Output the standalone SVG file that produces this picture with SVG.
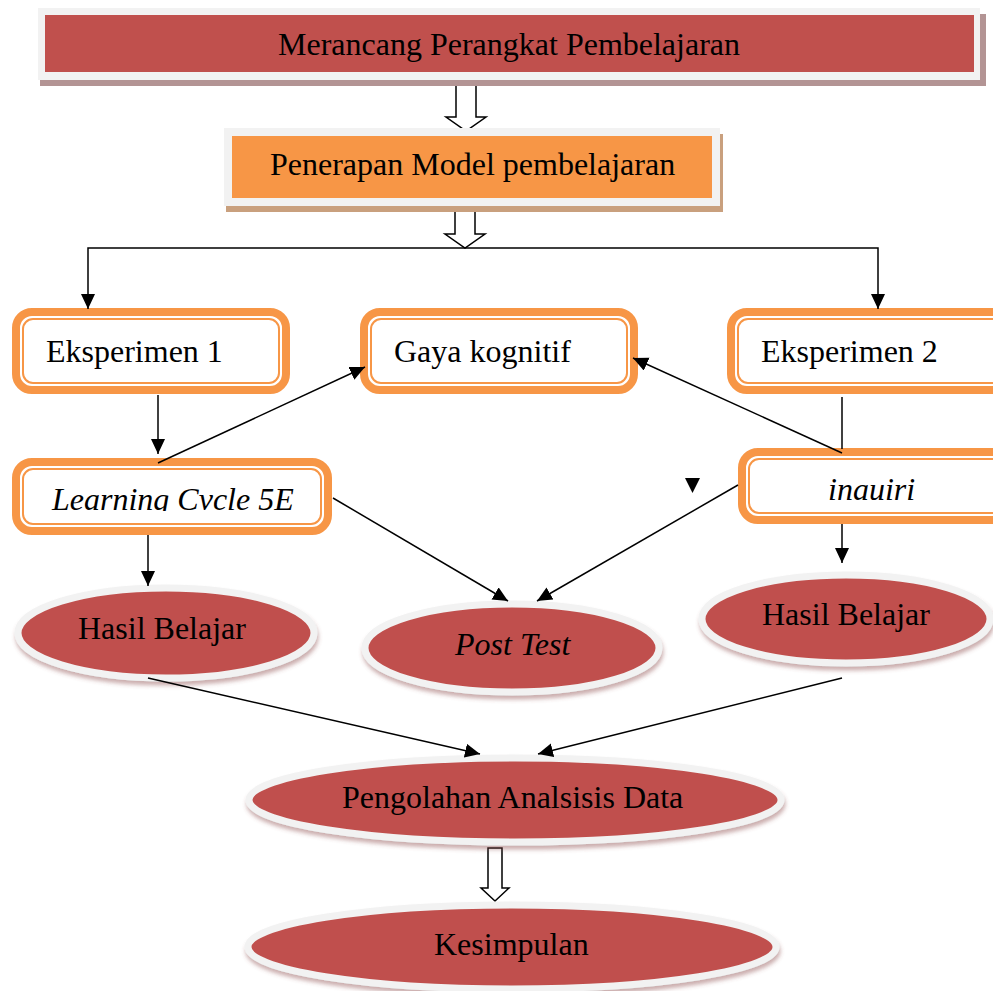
<svg xmlns="http://www.w3.org/2000/svg" width="993" height="991" viewBox="0 0 993 991">
<defs>
<style>
.t{font-family:"Liberation Serif","Times New Roman",serif;font-size:32px;fill:#000}
.i{font-style:italic}
.ob{fill:#fff;stroke:#f79646;stroke-width:8}
.ib{fill:none;stroke:#f79646;stroke-width:2}
.el{fill:#c0504d;stroke:#f2f2f2;stroke-width:7;filter:url(#sh)}
.ln{fill:none;stroke:#000;stroke-width:1.5}
.ba{fill:#fff;stroke:#000;stroke-width:1.5}
</style>
<marker id="ah" markerUnits="userSpaceOnUse" markerWidth="16" markerHeight="16" refX="15" refY="7" orient="auto">
<path d="M0,0 L15,7 L0,14 Z" fill="#000"/>
</marker>
<filter id="sh" x="-10%" y="-20%" width="120%" height="150%">
<feDropShadow dx="1" dy="4" stdDeviation="2" flood-color="#8b4a4a" flood-opacity="0.45"/>
</filter>
<clipPath id="clipLC"><rect x="20" y="440" width="310" height="71"/></clipPath>
<clipPath id="clipIQ"><rect x="745" y="440" width="248" height="61"/></clipPath>
</defs>
<rect width="993" height="991" fill="#fff"/>

<g id="block-arrows">
<path class="ba" d="M456,80 L476,80 L476,117 L486,117 L466,131 L446,117 L456,117 Z"/>
<path class="ba" d="M455,202 L475,202 L475,234 L485,234 L465,248 L445,234 L455,234 Z"/>
<path class="ba" d="M488,848 L502,848 L502,888 L509,888 L495,901 L481,888 L488,888 Z"/>
</g>

<g id="merancang">
<rect x="40" y="14" width="946" height="72" fill="#b39494"/>
<rect x="38" y="8" width="942" height="72" fill="#f2f2f2"/>
<rect x="45" y="15" width="929" height="57" fill="#c0504d"/>
<text class="t" x="278" y="55">Merancang Perangkat Pembelajaran</text>
</g>

<g id="penerapan">
<rect x="226" y="134" width="497" height="78" fill="#c9a07e"/>
<rect x="224" y="128" width="496" height="78" fill="#f2f2f2"/>
<rect x="232" y="136" width="480" height="62" fill="#f79646"/>
<text class="t" x="270" y="175">Penerapan Model pembelajaran</text>
</g>

<g id="eksperimen1">
<rect class="ob" x="16" y="312" width="270" height="78" rx="16"/>
<rect class="ib" x="23" y="319" width="256" height="64" rx="10"/>
<text class="t" x="46" y="362">Eksperimen 1</text>
</g>

<g id="gaya-kognitif">
<rect class="ob" x="364" y="312" width="270" height="78" rx="16"/>
<rect class="ib" x="371" y="319" width="256" height="64" rx="10"/>
<text class="t" x="394" y="362">Gaya kognitif</text>
</g>

<g id="eksperimen2">
<rect class="ob" x="731" y="312" width="290" height="78" rx="16"/>
<rect class="ib" x="738" y="319" width="276" height="64" rx="10"/>
<text class="t" x="761" y="362">Eksperimen 2</text>
</g>

<g id="learning-cycle">
<rect class="ob" x="16" y="462" width="312" height="69" rx="16"/>
<rect class="ib" x="23" y="469" width="298" height="55" rx="10"/>
<text class="t i" x="52" y="510" clip-path="url(#clipLC)">Learning Cvcle 5E</text>
</g>

<g id="inquiri">
<rect class="ob" x="742" y="452" width="290" height="68" rx="16"/>
<rect class="ib" x="749" y="459" width="280" height="54" rx="10"/>
<text class="t i" x="828" y="500" clip-path="url(#clipIQ)">inauiri</text>
</g>

<g id="hasil-belajar-1">
<ellipse class="el" cx="166" cy="633" rx="148" ry="45"/>
<text class="t" x="78" y="639">Hasil Belajar</text>
</g>

<g id="post-test">
<ellipse class="el" cx="512" cy="648" rx="147" ry="44"/>
<text class="t i" x="455" y="655">Post Test</text>
</g>

<g id="hasil-belajar-2">
<ellipse class="el" cx="846" cy="619" rx="144" ry="44"/>
<text class="t" x="762" y="625">Hasil Belajar</text>
</g>

<g id="pengolahan">
<ellipse class="el" cx="515" cy="800" rx="266" ry="42"/>
<text class="t" x="342" y="808">Pengolahan Analsisis Data</text>
</g>

<g id="kesimpulan">
<ellipse class="el" cx="512" cy="947" rx="264" ry="42"/>
<text class="t" x="434" y="955">Kesimpulan</text>
</g>

<g id="connectors">
<path class="ln" d="M466,248 L88,248 L88,309" marker-end="url(#ah)"/>
<path class="ln" d="M466,248 L878,248 L878,309" marker-end="url(#ah)"/>
<path class="ln" d="M158,395 L158,454" marker-end="url(#ah)"/>
<path class="ln" d="M158,463 L365,367" marker-end="url(#ah)"/>
<path class="ln" d="M842,397 L842,449"/>
<path class="ln" d="M842,453 L633,358" marker-end="url(#ah)"/>
<path class="ln" d="M738,485 L537,601" marker-end="url(#ah)"/>
<path class="ln" d="M333,498 L508,601" marker-end="url(#ah)"/>
<path class="ln" d="M148,535 L148,586" marker-end="url(#ah)"/>
<path class="ln" d="M842,524 L842,563" marker-end="url(#ah)"/>
<path class="ln" d="M148,678 L480,754" marker-end="url(#ah)"/>
<path class="ln" d="M842,678 L538,754" marker-end="url(#ah)"/>
<path d="M685,478 L700,478 L692.5,493 Z" fill="#000"/>
</g>
</svg>
